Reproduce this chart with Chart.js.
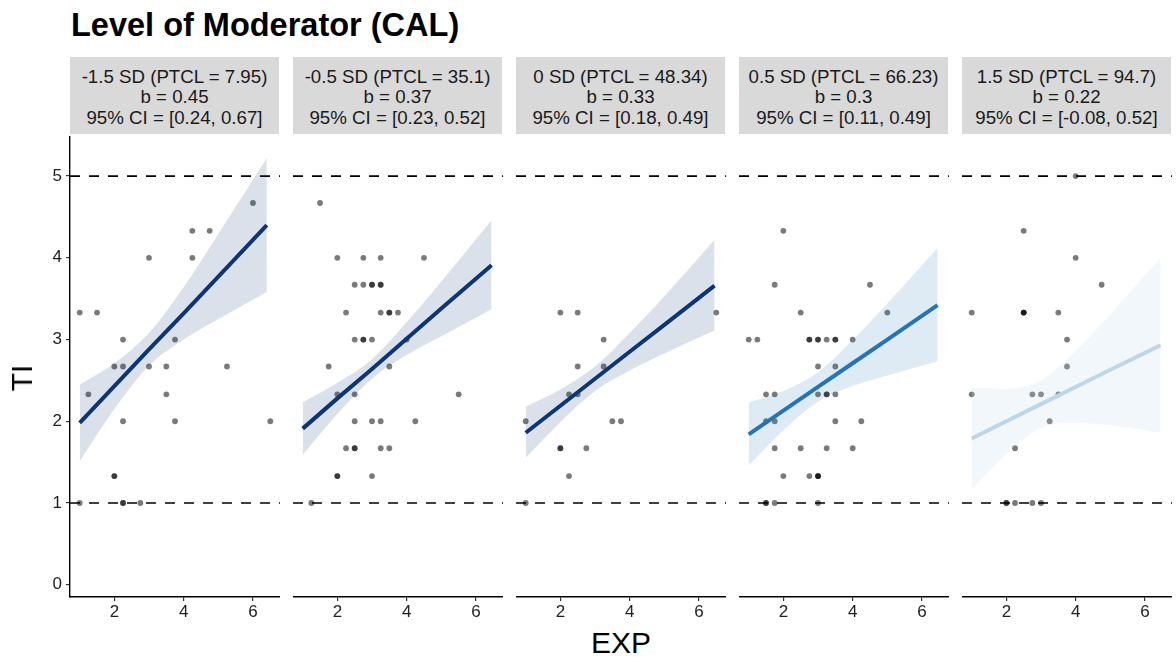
<!DOCTYPE html>
<html>
<head>
<meta charset="utf-8">
<script src="https://cdn.jsdelivr.net/npm/chart.js@4.4.1/dist/chart.umd.min.js"></script>
<style>
  body { margin: 0; background: #fff; width: 1176px; height: 663px; position: relative; overflow: hidden;
         font-family: "Liberation Sans", Arial, sans-serif; }
  #title { position: absolute; left: 71px; top: 7px; font-size: 32.5px; font-weight: bold; color: #000; white-space: nowrap; }
  .strip { position: absolute; top: 57px; height: 77px; width: 209px; background: #d9d9d9; color: #1a1a1a;
           font-size: 18.7px; line-height: 20.5px; text-align: center; display: flex; flex-direction: column;
           justify-content: center; white-space: nowrap; box-sizing: border-box; padding-top: 4px; }
  .panel { position: absolute; top: 136px; height: 485px; }
  #ylab { position: absolute; left: 22px; top: 378px; font-size: 30px; transform: translate(-50%, -50%) rotate(-90deg); }
  #xlab { position: absolute; left: 621px; top: 643px; font-size: 30px; transform: translate(-50%, -50%); }
</style>
</head>
<body>
<div id="title">Level of Moderator (CAL)</div>
<div id="strips"></div>
<div id="panels"></div>
<div id="ylab">TI</div>
<div id="xlab">EXP</div>
<script>
// facet strip text
const stripText = [
  ['-1.5 SD (PTCL = 7.95)', 'b = 0.45', '95% CI = [0.24, 0.67]'],
  ['-0.5 SD (PTCL = 35.1)', 'b = 0.37', '95% CI = [0.23, 0.52]'],
  ['0 SD (PTCL = 48.34)', 'b = 0.33', '95% CI = [0.18, 0.49]'],
  ['0.5 SD (PTCL = 66.23)', 'b = 0.3', '95% CI = [0.11, 0.49]'],
  ['1.5 SD (PTCL = 94.7)', 'b = 0.22', '95% CI = [-0.08, 0.52]']
];

const xTicks = [2, 4, 6];
const yTicks = [0, 1, 2, 3, 4, 5];
const refLines = [1, 5];

// raw points (EXP, TI) per panel
const exp1 = [1, 1.5, 1.25, 2.25, 2, 2.25, 3, 3, 3.5, 3.5, 3.75, 3.75, 2.25, 4.25, 4.75, 4.25, 5.25, 6, 6.5, 2, 2, 1, 2.25, 2.25, 2.75];
const ti1  = [3.33, 3.33, 2.33, 3, 2.67, 2.67, 4, 2.67, 2.67, 2.33, 3, 2, 2, 4.33, 4.33, 4, 2.67, 4.67, 2, 1.33, 1.33, 1, 1, 1, 1];

const exp2 = [1.5, 2, 2.75, 3.25, 4.5, 2.5, 2.75, 3, 3, 3.25, 3.25, 2.25, 3.25, 3.5, 3.5, 3.75, 2.5, 2.75, 2.75, 3, 4,
              1.75, 3.5, 2, 2.5, 5.5, 2.5, 3, 3.25, 4.25, 2.25, 2.5, 2.5, 3.25, 3.5, 2, 2, 3, 1.25];
const ti2  = [4.67, 4, 4, 4, 4, 3.67, 3.67, 3.67, 3.67, 3.67, 3.67, 3.33, 3.33, 3.33, 3.33, 3.33, 3, 3, 3, 3, 3,
              2.67, 2.67, 2.33, 2.33, 2.33, 2, 2, 2, 2, 1.67, 1.67, 1.67, 1.67, 1.67, 1.33, 1.33, 1.33, 1];

const exp3 = [2, 2.5, 6.5, 3.25, 2.5, 3.25, 2.25, 2.5, 1, 3.5, 3.75, 2, 2, 2.75, 2.25, 1];
const ti3  = [3.33, 3.33, 3.33, 3, 2.67, 2.67, 2.33, 2.33, 2, 2, 2, 1.67, 1.67, 1.67, 1.33, 1];

const exp4 = [2, 1.75, 4.5, 2.5, 5, 1, 1.25, 2.75, 2.75, 3, 3, 3.25, 3.5, 3.5, 4, 3, 3.5, 1.5, 1.75, 3, 3.25, 3.25, 3.5,
              1.5, 1.75, 3.5, 4.25, 1.75, 2.5, 3.25, 4, 2, 2.75, 3, 3, 3, 1.5, 1.5, 1.75, 3];
const ti4  = [4.33, 3.67, 3.67, 3.33, 3.33, 3, 3, 3, 3, 3, 3, 3, 3, 3, 3, 2.67, 2.67, 2.33, 2.33, 2.33, 2.33, 2.33, 2.33,
              2, 2, 2, 2, 1.67, 1.67, 1.67, 1.67, 1.33, 1.33, 1.33, 1.33, 1.33, 1, 1, 1, 1];

const exp5 = [4, 2.5, 4, 4.75, 1, 2.5, 2.5, 2.5, 3.5, 3.75, 3.75, 1, 2.75, 3, 3.5, 3.25, 2.25, 2, 2, 2.25, 2.75, 3];
const ti5  = [5, 4.33, 4, 3.67, 3.33, 3.33, 3.33, 3.33, 3.33, 3, 2.67, 2.33, 2.33, 2.33, 2.33, 2, 1.67, 1, 1, 1, 1, 1];

// fitted line and 95% band
const fitX1 = [1, 2, 3, 4, 5, 6.4];
const fit1  = [1.98, 2.43, 2.88, 3.32, 3.77, 4.40];
const hi1   = [2.45, 2.71, 3.08, 3.64, 4.29, 5.22];
const lo1   = [1.51, 2.15, 2.68, 3.00, 3.25, 3.58];

const fitX2 = [1, 2, 3, 4, 5, 6.45];
const fit2  = [1.91, 2.28, 2.64, 3.01, 3.38, 3.91];
const hi2   = [2.23, 2.47, 2.76, 3.21, 3.71, 4.46];
const lo2   = [1.59, 2.09, 2.52, 2.81, 3.04, 3.37];

const fitX3 = [1, 2, 3, 4, 5, 6.45];
const fit3  = [1.86, 2.19, 2.52, 2.85, 3.18, 3.66];
const hi3   = [2.18, 2.39, 2.67, 3.08, 3.53, 4.22];
const lo3   = [1.55, 1.99, 2.37, 2.62, 2.83, 3.11];

const fitX4 = [1, 2, 3, 4, 5, 6.45];
const fit4  = [1.84, 2.13, 2.42, 2.71, 3.00, 3.42];
const hi4   = [2.23, 2.37, 2.60, 2.99, 3.44, 4.12];
const lo4   = [1.46, 1.89, 2.24, 2.43, 2.56, 2.73];

const fitX5 = [1, 2, 3, 4, 5, 6.45];
const fit5  = [1.79, 2.00, 2.21, 2.42, 2.63, 2.93];
const hi5   = [2.41, 2.40, 2.50, 2.86, 3.31, 4.00];
const lo5   = [1.17, 1.60, 1.92, 1.98, 1.95, 1.86];

const lineColors = ['#0c3573', '#0c3573', '#0c3573', '#2474b8', '#bcd6ec'];
const bandColors = ['rgba(12,53,115,0.15)', 'rgba(12,53,115,0.15)', 'rgba(12,53,115,0.15)',
                    'rgba(36,116,184,0.15)', 'rgba(188,214,236,0.2)'];

const panels = [
  {exp: exp1, ti: ti1, fx: fitX1, fy: fit1, hi: hi1, lo: lo1},
  {exp: exp2, ti: ti2, fx: fitX2, fy: fit2, hi: hi2, lo: lo2},
  {exp: exp3, ti: ti3, fx: fitX3, fy: fit3, hi: hi3, lo: lo3},
  {exp: exp4, ti: ti4, fx: fitX4, fy: fit4, hi: hi4, lo: lo4},
  {exp: exp5, ti: ti5, fx: fitX5, fy: fit5, hi: hi5, lo: lo5}
];

const xMin = 0.72, xMax = 6.78;
const yMin = -0.15, yMax = 5.49;
const panelLeft = [70, 293, 516, 739, 962];
const panelW = 210;
const yAxisW = 70;
const font = '"Liberation Sans", Arial, sans-serif';

function xy(xs, ys) {
  return xs.map((x, i) => ({x: x, y: ys[i]}));
}

// no label padding, so every panel gets the same plot box
function noPad(s) {
  s.paddingTop = 0;
  s.paddingBottom = 0;
  s.paddingLeft = 0;
  s.paddingRight = 0;
}

panels.forEach((p, i) => {
  const first = i === 0;

  const strip = document.createElement('div');
  strip.className = 'strip';
  strip.style.left = panelLeft[i] + 'px';
  stripText[i].forEach(t => {
    const d = document.createElement('div');
    d.textContent = t;
    strip.appendChild(d);
  });
  document.getElementById('strips').appendChild(strip);

  const canvas = document.createElement('canvas');
  canvas.className = 'panel';
  const w = first ? panelW + yAxisW : panelW;
  canvas.width = w;
  canvas.height = 485;
  canvas.style.left = (first ? panelLeft[i] - yAxisW : panelLeft[i]) + 'px';
  canvas.style.width = w + 'px';
  document.getElementById('panels').appendChild(canvas);

  const datasets = [
    {data: xy(p.fx, p.fy), borderColor: lineColors[i], borderWidth: 4, pointRadius: 0, fill: false},
    {data: xy(p.fx, p.hi), borderWidth: 0, pointRadius: 0, fill: '+1', backgroundColor: bandColors[i],
     cubicInterpolationMode: 'monotone'},
    {data: xy(p.fx, p.lo), borderWidth: 0, pointRadius: 0, fill: false, cubicInterpolationMode: 'monotone'},
    {data: xy(p.exp, p.ti), showLine: false, pointRadius: 2.9, pointBorderWidth: 0,
     pointBackgroundColor: 'rgba(0,0,0,0.52)'}
  ];
  refLines.forEach(v => {
    datasets.push({data: [{x: xMin, y: v}, {x: xMax, y: v}], borderColor: '#000', borderWidth: 1.7,
                   borderDash: [10, 9], pointRadius: 0, fill: false});
  });

  new Chart(canvas, {
    type: 'line',
    data: {datasets: datasets},
    options: {
      responsive: false,
      animation: false,
      events: [],
      layout: {padding: 0, autoPadding: false},
      plugins: {legend: {display: false}, tooltip: {enabled: false}},
      scales: {
        x: {
          type: 'linear', min: xMin, max: xMax,
          afterBuildTicks: s => { s.ticks = xTicks.map(v => ({value: v})); },
          afterFit: s => { s.height = 24; noPad(s); },
          grid: {drawOnChartArea: false, tickLength: 4, color: '#333', lineWidth: 1.2},
          border: {color: '#000', width: 1.4},
          ticks: {font: {size: 17, family: font}, color: '#222', padding: 1, maxRotation: 0}
        },
        y: {
          display: first, min: yMin, max: yMax,
          afterBuildTicks: s => { s.ticks = yTicks.map(v => ({value: v})); },
          afterFit: s => { s.width = first ? yAxisW : 0; noPad(s); },
          grid: {drawOnChartArea: false, tickLength: 4, color: '#333', lineWidth: 1.2},
          border: {color: '#000', width: 1.4},
          ticks: {font: {size: 17, family: font}, color: '#222', padding: 4}
        }
      }
    }
  });
});
</script>
</body>
</html>
